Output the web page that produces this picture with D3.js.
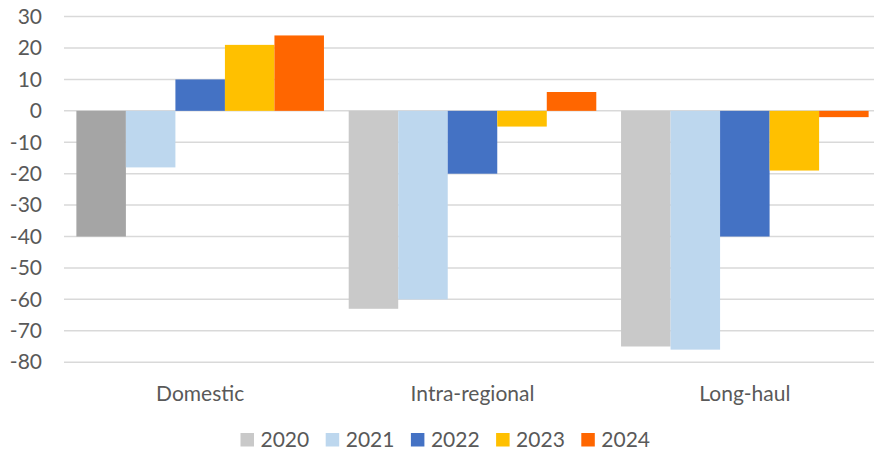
<!DOCTYPE html>
<html>
<head>
<meta charset="utf-8">
<script src="https://cdn.jsdelivr.net/npm/d3@7"></script>
<style>
  html, body { margin: 0; padding: 0; background: #fff; }
  svg { display: block; font-family: Lato, "Open Sans", sans-serif; }
</style>
</head>
<body>
<svg id="chart" width="874" height="451"></svg>
<script>
// Change by market segment, per year
const categories = ["Domestic", "Intra-regional", "Long-haul"];
const years = ["2020", "2021", "2022", "2023", "2024"];
const v2020 = [-40, -63, -75];
const v2021 = [-18, -60, -76];
const v2022 = [10, -20, -40];
const v2023 = [21, -5, -19];
const v2024 = [24, 6, -2];
const yTicks = [30, 20, 10, 0, -10, -20, -30, -40, -50, -60, -70, -80];

const seriesValues = [v2020, v2021, v2022, v2023, v2024];
const colors = ["#c9c9c9", "#bdd7ee", "#4472c4", "#ffc000", "#ff6600"];
// the Domestic 2020 bar carries its own darker fill
const pointColor = (s, c) => (s === 0 && c === 0) ? "#a5a5a5" : colors[s];

const svg = d3.select("#chart");
const plot = { left: 64, right: 881, top: 16.6, bottom: 362.2 };

const y = d3.scaleLinear().domain([-80, 30]).range([plot.bottom, plot.top]);
const x0 = d3.scaleBand().domain(categories).range([plot.left, plot.right]).padding(0);
const x1 = d3.scaleBand().domain(years).range([0, x0.bandwidth()])
  .paddingInner(0).paddingOuter(0.25);

// gridlines
svg.append("g")
  .selectAll("line")
  .data(yTicks)
  .join("line")
  .attr("x1", plot.left).attr("x2", 874)
  .attr("y1", d => y(d)).attr("y2", d => y(d))
  .attr("stroke", "#d9d9d9").attr("stroke-width", 1.5);

// y axis labels (plain hyphen for negatives)
const yAxis = d3.axisLeft(y).tickValues(yTicks).tickSize(0).tickPadding(0)
  .tickFormat(d => String(d));
const gy = svg.append("g").attr("transform", "translate(42,0)").call(yAxis);
gy.select(".domain").remove();
gy.selectAll("text")
  .attr("fill", "#595959")
  .style("font-size", "21px")
  .style("font-family", "Lato, 'Open Sans', sans-serif");

// bars
const rows = [];
seriesValues.forEach((vals, s) => vals.forEach((v, c) => rows.push({ s, c, v })));
svg.append("g")
  .selectAll("rect")
  .data(rows)
  .join("rect")
  .attr("x", d => x0(categories[d.c]) + x1(years[d.s]))
  .attr("width", x1.bandwidth())
  .attr("y", d => y(Math.max(0, d.v)))
  .attr("height", d => Math.abs(y(d.v) - y(0)))
  .attr("fill", d => pointColor(d.s, d.c));

// category labels
const xAxis = d3.axisBottom(x0).tickSize(0).tickPadding(0);
const gx = svg.append("g").attr("transform", "translate(0,385)").call(xAxis);
gx.select(".domain").remove();
gx.selectAll("text")
  .attr("fill", "#595959")
  .attr("dy", "0.75em")
  .style("font-size", "21px")
  .style("font-family", "Lato, 'Open Sans', sans-serif");

// legend
const legend = svg.append("g").attr("transform", "translate(240.5,0)");
const item = legend.selectAll("g")
  .data(years)
  .join("g")
  .attr("transform", (d, i) => `translate(${i * 85.2},0)`);
item.append("rect")
  .attr("x", 0).attr("y", 433).attr("width", 13.5).attr("height", 13.5)
  .attr("fill", (d, i) => colors[i]);
item.append("text")
  .attr("x", 20).attr("y", 447)
  .attr("fill", "#595959")
  .style("font-size", "21px")
  .text(d => d);
</script>
</body>
</html>
